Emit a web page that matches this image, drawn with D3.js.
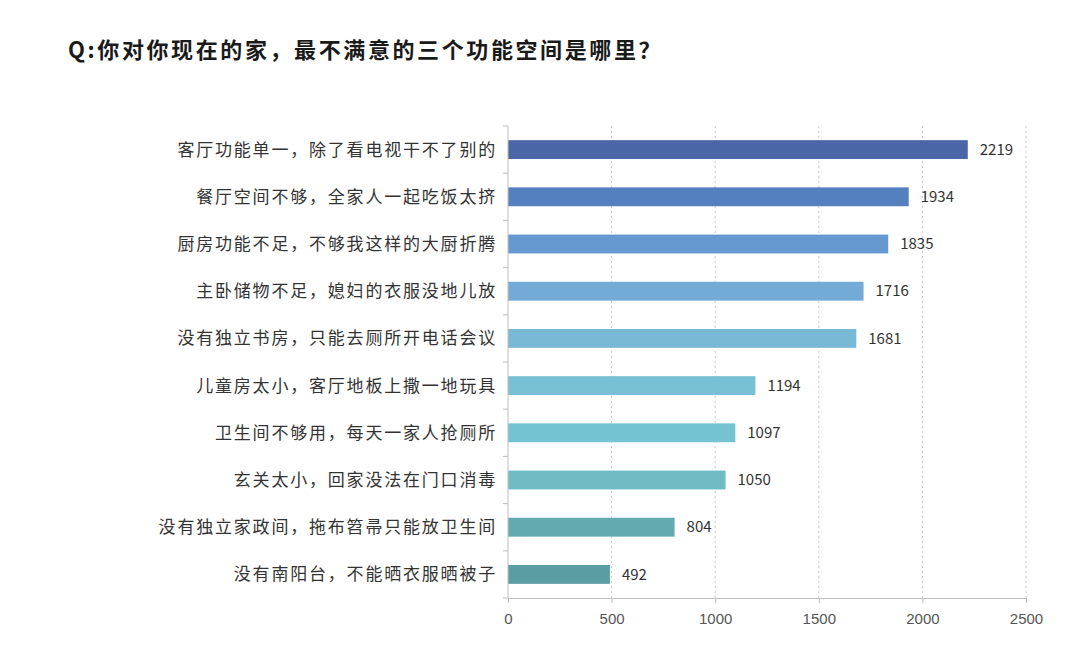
<!DOCTYPE html>
<html>
<head>
<meta charset="utf-8">
<script src="https://cdn.jsdelivr.net/npm/d3@7"></script>
<style>
  body { margin: 0; background: #fff; }
  svg { display: block; font-family: "Noto Sans CJK SC", "Noto Sans", sans-serif; }
</style>
</head>
<body>
<svg id="chart" width="1080" height="666"></svg>
<script>
const categories = [
  '客厅功能单一，除了看电视干不了别的',
  '餐厅空间不够，全家人一起吃饭太挤',
  '厨房功能不足，不够我这样的大厨折腾',
  '主卧储物不足，媳妇的衣服没地儿放',
  '没有独立书房，只能去厕所开电话会议',
  '儿童房太小，客厅地板上撒一地玩具',
  '卫生间不够用，每天一家人抢厕所',
  '玄关太小，回家没法在门口消毒',
  '没有独立家政间，拖布笤帚只能放卫生间',
  '没有南阳台，不能晒衣服晒被子'
]
const values = [2219, 1934, 1835, 1716, 1681, 1194, 1097, 1050, 804, 492]
const barColors = ['#4a66a6', '#5580c0', '#6699d0', '#74aad6', '#79b9d6',
  '#78c0d4', '#73c3d0', '#6ebbc4', '#62aab0', '#5a9da2']
const xTicks = [0, 500, 1000, 1500, 2000, 2500]
const title = 'Q:你对你现在的家，最不满意的三个功能空间是哪里？'

const $svg = d3.select('#chart')
const MARGIN = { top: 126, left: 508, right: 54, bottom: 68 }
const width = 1080, height = 666

const x = d3.scaleLinear()
  .domain([0, 2500])
  .range([MARGIN.left, width - MARGIN.right])
const y = d3.scaleBand()
  .domain(categories)
  .range([MARGIN.top, height - MARGIN.bottom])
  .paddingInner(0.6)
  .paddingOuter(0.3)

$svg.append('text')
  .attr('x', 68)
  .attr('y', 58)
  .attr('font-size', 22)
  .attr('font-weight', 'bold')
  .attr('letter-spacing', 2.6)
  .attr('fill', '#1a1a1a')
  .text(title)

// dashed grid
$svg.append('g')
  .selectAll('line')
  .data(xTicks.slice(1))
  .join('line')
  .attr('x1', d => x(d)).attr('x2', d => x(d))
  .attr('y1', MARGIN.top).attr('y2', height - MARGIN.bottom)
  .attr('stroke', '#c8c8c8')
  .attr('stroke-dasharray', '2,3')

// bars
$svg.append('g')
  .selectAll('rect')
  .data(values)
  .join('rect')
  .attr('x', x(0))
  .attr('y', (d, i) => y(categories[i]))
  .attr('width', d => x(d) - x(0))
  .attr('height', y.bandwidth())
  .attr('fill', (d, i) => barColors[i])

// value labels
$svg.append('g')
  .selectAll('text')
  .data(values)
  .join('text')
  .attr('x', d => x(d) + 12)
  .attr('y', (d, i) => y(categories[i]) + y.bandwidth() / 2)
  .attr('dy', '0.35em')
  .attr('font-size', 15)
  .attr('fill', '#333')
  .text(d => d)

// x axis
const xAxis = $svg.append('g')
  .attr('transform', `translate(0,${height - MARGIN.bottom})`)
  .call(d3.axisBottom(x).tickValues(xTicks).tickFormat(d3.format('d'))
    .tickSize(5).tickPadding(10).tickSizeOuter(0))
xAxis.select('.domain').attr('stroke', '#bfbfbf')
xAxis.selectAll('.tick line').attr('stroke', '#bfbfbf')
xAxis.selectAll('.tick text')
  .attr('font-size', 15)
  .attr('fill', '#555')

// y axis, ticks between categories
const step = y.step()
const yBounds = d3.range(categories.length + 1).map(i => y.range()[0] + i * step)
const yAxis = $svg.append('g')
yAxis.append('line')
  .attr('x1', x(0)).attr('x2', x(0))
  .attr('y1', MARGIN.top).attr('y2', height - MARGIN.bottom)
  .attr('stroke', '#bfbfbf')
yAxis.selectAll('.tk')
  .data(yBounds)
  .join('line')
  .attr('class', 'tk')
  .attr('x1', x(0) - 5).attr('x2', x(0))
  .attr('y1', d => d).attr('y2', d => d)
  .attr('stroke', '#bfbfbf')
yAxis.selectAll('text')
  .data(categories)
  .join('text')
  .attr('x', x(0) - 11)
  .attr('y', d => y(d) + y.bandwidth() / 2)
  .attr('dy', '0.35em')
  .attr('text-anchor', 'end')
  .attr('font-size', 17)
  .attr('letter-spacing', 1.8)
  .attr('fill', '#333')
  .text(d => d)
</script>
</body>
</html>
